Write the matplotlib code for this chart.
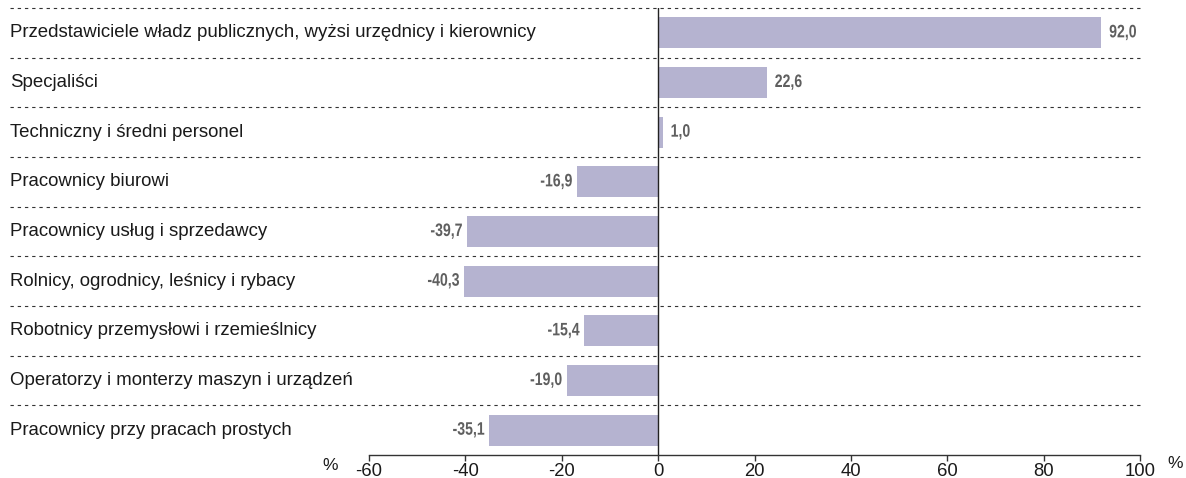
import matplotlib.pyplot as plt
from matplotlib.patheffects import AbstractPathEffect
from matplotlib.transforms import Affine2D

categories = [
    "Przedstawiciele władz publicznych, wyżsi urzędnicy i kierownicy",
    "Specjaliści",
    "Techniczny i średni personel",
    "Pracownicy biurowi",
    "Pracownicy usług i sprzedawcy",
    "Rolnicy, ogrodnicy, leśnicy i rybacy",
    "Robotnicy przemysłowi i rzemieślnicy",
    "Operatorzy i monterzy maszyn i urządzeń",
    "Pracownicy przy pracach prostych",
]
values = [92.0, 22.6, 1.0, -16.9, -39.7, -40.3, -15.4, -19.0, -35.1]
xticks = [-60, -40, -20, 0, 20, 40, 60, 80, 100]

plt.rcParams['font.family'] = ['Liberation Sans', 'DejaVu Sans']


class Squeeze(AbstractPathEffect):
    # narrow the glyphs horizontally around the text anchor (condensed look)
    def __init__(self, sx):
        super().__init__()
        self.sx = sx
        self.text = None

    def draw_path(self, renderer, gc, tpath, affine, rgbFace=None):
        ax0, _ = self.text.get_transform().transform(self.text.get_position())
        sq = Affine2D().translate(-ax0, 0).scale(self.sx, 1).translate(ax0, 0)
        renderer.draw_path(gc, tpath, affine + sq, rgbFace)


fig = plt.figure(figsize=(11.86, 4.78), dpi=100)
ax = fig.add_axes([369 / 1186, 1 - 455 / 478, 771 / 1186, 447 / 478])

bar_color = "#b5b3d0"
ypos = list(range(len(categories)))
ax.barh(ypos, values, height=0.62, color=bar_color, zorder=2)

ax.set_xlim(-60, 100)
ax.set_ylim(len(categories) - 0.5, -0.5)

# dashed separators across the whole width, including the label area
ytr = ax.get_yaxis_transform()
x0 = (10 - 369) / 771
for i in range(len(categories)):
    ax.plot([x0, 1.0], [i - 0.5, i - 0.5], transform=ytr, clip_on=False,
            color="#333333", lw=0.8, ls=(0, (3, 3.5)), zorder=1)

ax.axvline(0, color="#222222", lw=1.0, zorder=3)

for i, (cat, v) in enumerate(zip(categories, values)):
    ax.text(x0, i, cat, transform=ytr, ha="left", va="center",
            fontsize=13.45, color="#1a1a1a")
    off = 1.6 if v >= 0 else -0.9
    sq = Squeeze(0.78)
    t = ax.text(v + off, i, f"{v:.1f}".replace(".", ","),
                ha="left" if v >= 0 else "right", va="center", fontsize=13,
                fontweight="bold", color="#5f5f5f", path_effects=[sq])
    sq.text = t

for s in ["top", "right", "left"]:
    ax.spines[s].set_visible(False)
ax.spines["bottom"].set_color("#333333")
ax.spines["bottom"].set_linewidth(1.0)
ax.set_yticks([])
ax.set_xticks(xticks)
ax.set_xticklabels([str(t) for t in xticks])
ax.tick_params(axis="x", length=4, width=1.0, color="#333333", labelsize=13.3,
               labelcolor="#1a1a1a", pad=2)

ax.text((330 - 369) / 771, -11 / 447, "%", transform=ax.transAxes, ha="center",
        va="center", fontsize=12.5, color="#1a1a1a", clip_on=False)
ax.text((1175 - 369) / 771, -9 / 447, "%", transform=ax.transAxes, ha="center",
        va="center", fontsize=12.5, color="#1a1a1a", clip_on=False)

fig.savefig("out.png", dpi=100)
